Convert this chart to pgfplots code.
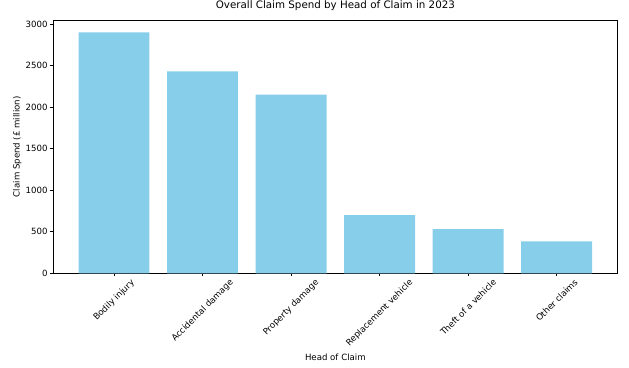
\documentclass[border=0pt]{standalone}
\usepackage{fontspec}
\setmainfont{DejaVu Sans}
\usepackage{graphicx}
\usepackage{pgfplots}
\pgfplotsset{compat=1.18}
\definecolor{skyblue}{HTML}{87CEEB}
\begin{document}
\begin{tikzpicture}
\begin{axis}[
  at={(0,0)}, anchor=south west,
  scale only axis,
  width=564.7pt, height=253.1pt,
  xmin=-0.69, xmax=5.69,
  ymin=0, ymax=3045,
  axis line style={black, line width=0.6pt},
  tick style={black, line width=0.5pt},
  tick align=outside,
  major tick length=3pt,
  xtick={0,1,2,3,4,5},
  xticklabels={
    \rotatebox{45}{Bodily injury},
    \rotatebox{45}{Accidental damage},
    \rotatebox{45}{Property damage},
    \rotatebox{45}{Replacement vehicle},
    \rotatebox{45}{Theft of a vehicle},
    \rotatebox{45}{Other claims}},
  ytick={0,500,1000,1500,2000,2500,3000},
  xtick pos=bottom, ytick pos=left,
  /pgf/number format/assume math mode=true,
  /pgf/number format/1000 sep={},
  tick label style={font=\fontsize{8.6}{10}\selectfont, text=black},
  xticklabel style={anchor=north, inner sep=0pt, yshift=-2pt},
  yticklabel style={anchor=east, inner sep=0pt, xshift=-2.3pt},
  title={Overall Claim Spend by Head of Claim in 2023},
  title style={font=\fontsize{10.3}{12}\selectfont, at={(axis description cs:0.5,1)}, anchor=base, yshift=5.5pt},
  xlabel={Head of Claim},
  xlabel style={font=\fontsize{8.6}{10}\selectfont, at={(axis description cs:0.5,0)}, anchor=base, yshift=-87pt},
  ylabel={Claim Spend (£ million)},
  ylabel style={font=\fontsize{8.6}{10}\selectfont, at={([xshift=-33.4pt]axis description cs:0,0.5)}, rotate=0, anchor=base},
]
\addplot[ybar, bar width=0.8, fill=skyblue, draw=none] coordinates {
  (0,2900) (1,2430) (2,2150) (3,700) (4,530) (5,385)
};
\end{axis}
\pgfresetboundingbox
\useasboundingbox (-53pt,-93.7pt) rectangle (576pt,273.3pt);
\end{tikzpicture}
\end{document}
